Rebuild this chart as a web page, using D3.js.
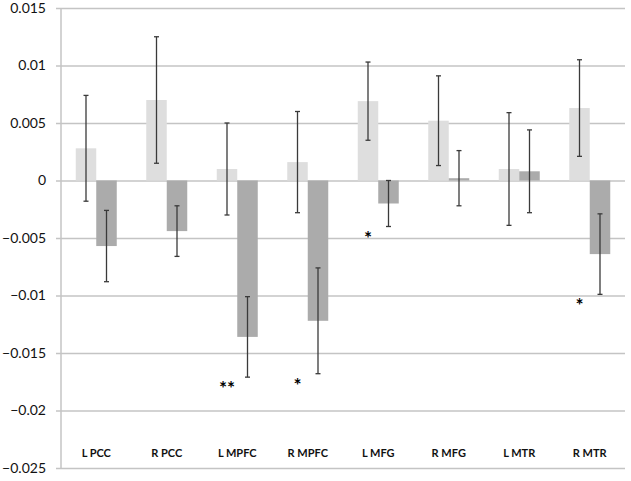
<!DOCTYPE html>
<html>
<head>
<meta charset="utf-8">
<script src="https://cdn.jsdelivr.net/npm/d3@7"></script>
<style>
  body { margin: 0; background: #fff; }
  text { font-family: Lato, "Open Sans", sans-serif; }
</style>
</head>
<body>
<div id="chart"></div>
<script>
// data
var regions = ["L PCC", "R PCC", "L MPFC", "R MPFC", "L MFG", "R MFG", "L MTR", "R MTR"];
var lightValues = [0.0028, 0.0070, 0.0010, 0.0016, 0.0069, 0.0052, 0.0010, 0.0063];
var lightErrors = [0.0046, 0.0055, 0.0040, 0.0044, 0.0034, 0.0039, 0.0049, 0.0042];
var darkValues = [-0.0057, -0.0044, -0.0136, -0.0122, -0.0020, 0.0002, 0.0008, -0.0064];
var darkErrors = [0.0031, 0.0022, 0.0035, 0.0046, 0.0020, 0.0024, 0.0036, 0.0035];
var stars = ["", "", "**", "*", "*", "", "", "*"];
var yTicks = [0.015, 0.01, 0.005, 0, -0.005, -0.01, -0.015, -0.02, -0.025];

var svgWidth = 631;
var svgHeight = 481;

var margin = { top: 8, right: 6, bottom: 13, left: 61 };

var svg = d3.select("#chart")
  .append("svg")
  .attr("width", svgWidth)
  .attr("height", svgHeight);

var x0 = d3.scaleBand()
  .domain(regions)
  .range([margin.left, svgWidth - margin.right]);

var barW = 20.5;
var x1 = d3.scaleBand()
  .domain(["light", "dark"])
  .range([x0.bandwidth() / 2 - barW, x0.bandwidth() / 2 + barW]);

var y = d3.scaleLinear()
  .domain([-0.025, 0.015])
  .range([svgHeight - margin.bottom, margin.top]);

// gridlines + left axis
var leftAxis = d3.axisLeft(y)
  .tickValues(yTicks)
  .tickSize(-(svgWidth - margin.right - margin.left))
  .tickFormat(d => d3.format("")(+d.toFixed(3)));

var axisG = svg.append("g")
  .attr("transform", `translate(${margin.left}, 0)`)
  .call(leftAxis);

axisG.select(".domain").remove();
axisG.selectAll(".tick line")
  .attr("x1", -5)
  .attr("stroke", "#c4c4c4")
  .attr("stroke-width", 1.5);
axisG.selectAll(".tick text")
  .attr("x", -15)
  .attr("fill", "#111")
  .style("font-size", "14px");

svg.append("line")
  .attr("x1", margin.left).attr("x2", margin.left)
  .attr("y1", y(0.015)).attr("y2", y(-0.025))
  .attr("stroke", "#c4c4c4")
  .attr("stroke-width", 1.5);

// bars
var rows = regions.map((r, i) => ({
  region: r,
  light: lightValues[i], lightErr: lightErrors[i],
  dark: darkValues[i], darkErr: darkErrors[i],
  star: stars[i]
}));

var groups = svg.selectAll(".grp")
  .data(rows)
  .enter()
  .append("g")
  .attr("class", "grp")
  .attr("transform", d => `translate(${x0(d.region)}, 0)`);

[["light", "lightErr", "#dedede"], ["dark", "darkErr", "#ababab"]].forEach(function(s) {
  groups.append("rect")
    .attr("x", x1(s[0]))
    .attr("width", x1.bandwidth())
    .attr("y", d => y(Math.max(0, d[s[0]])))
    .attr("height", d => Math.abs(y(d[s[0]]) - y(0)))
    .attr("fill", s[2]);
});

// error bars
[["light", "lightErr"], ["dark", "darkErr"]].forEach(function(s) {
  var cx = x1(s[0]) + x1.bandwidth() / 2;
  var eb = groups.append("g")
    .attr("stroke", "#3a3a3a")
    .attr("stroke-width", 1.3);
  eb.append("line")
    .attr("x1", cx).attr("x2", cx)
    .attr("y1", d => y(d[s[0]] + d[s[1]]))
    .attr("y2", d => y(d[s[0]] - d[s[1]]));
  eb.append("line")
    .attr("x1", cx - 2.5).attr("x2", cx + 2.5)
    .attr("y1", d => y(d[s[0]] + d[s[1]]))
    .attr("y2", d => y(d[s[0]] + d[s[1]]));
  eb.append("line")
    .attr("x1", cx - 2.5).attr("x2", cx + 2.5)
    .attr("y1", d => y(d[s[0]] - d[s[1]]))
    .attr("y2", d => y(d[s[0]] - d[s[1]]));
});

// significance stars
groups.append("text")
  .attr("x", x1("light") + x1.bandwidth() / 2)
  .attr("y", d => y(d.dark - d.darkErr) + 18)
  .style("text-anchor", "middle")
  .style("font-size", "19px")
  .style("font-weight", "bold")
  .attr("fill", "#000")
  .text(d => d.star);

// category labels
groups.append("text")
  .attr("x", x0.bandwidth() / 2)
  .attr("y", 457)
  .style("text-anchor", "middle")
  .style("font-size", "11px")
  .style("font-weight", "bold")
  .attr("fill", "#111")
  .text(d => d.region);
</script>
</body>
</html>
